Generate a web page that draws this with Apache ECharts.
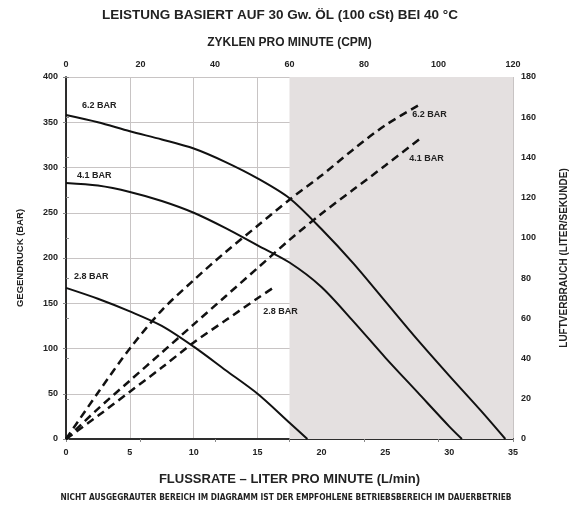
<!DOCTYPE html>
<html>
<head>
<meta charset="utf-8">
<script src="https://cdn.jsdelivr.net/npm/echarts@6.0.0/dist/echarts.min.js"></script>
<style>
  html, body { margin: 0; padding: 0; background: #fff; }
  #chart { width: 572px; height: 506px; }
</style>
</head>
<body>
<div id="chart"></div>
<script>
// Gegendruck (bar) ueber Flussrate (L/min), durchgezogene Linien
var flow62 = [0, 2.5, 5, 7.5, 10, 12.5, 15, 17.5, 20, 22.5, 25, 27.5, 30, 32.5, 34.4];
var pressure62 = [358, 350, 340, 331, 321, 306, 288, 266, 232, 194, 152, 110, 70, 31, 0];
var flow41 = [0, 2.5, 5, 7.5, 10, 12.5, 15, 17.5, 20, 22.5, 25, 27.5, 30, 31];
var pressure41 = [283, 280, 273, 263, 250, 233, 214, 195, 168, 130, 90, 52, 14, 0];
var flow28 = [0, 2.5, 5, 7.5, 10, 12.5, 15, 17.5, 18.9];
var pressure28 = [167, 155, 141, 125, 102, 76, 50, 18, 0];

// Luftverbrauch (L/s) ueber Flussrate, gestrichelte Linien
var airFlow62 = [0, 2.5, 5, 7.5, 10, 12.5, 15, 17.5, 20, 22.5, 25, 27.9];
var air62 = [0, 23, 45, 64, 79, 93, 106, 119, 131, 144, 156, 167];
var airFlow41 = [0, 2.5, 5, 7.5, 10, 12.5, 15, 17.5, 20, 22.5, 25, 27.65];
var air41 = [0, 15, 29, 43, 57, 71, 85, 99, 112, 124, 136, 149];
var airFlow28 = [0, 2.5, 5, 7.5, 10, 12.5, 15, 16.3];
var air28 = [0, 11.5, 23.5, 35.5, 48, 59, 70, 75.5];

var labels = ["6.2 BAR", "4.1 BAR", "2.8 BAR"];
var shadedFrom = 17.5; // 60 CPM, ab hier grau

var font = "Liberation Sans";
var dark = "#222";

function pairs(xs, ys) {
  return xs.map(function (x, i) { return [x, ys[i]]; });
}

// Beschriftung an einem Datenpunkt anbringen
function withLabel(data, idx, text, pos) {
  data[idx] = {
    value: data[idx],
    label: {
      show: true,
      formatter: text,
      position: pos,
      color: dark,
      fontFamily: font,
      fontWeight: "bold",
      fontSize: 9
    }
  };
  return data;
}

function solid(xs, ys, text, pos) {
  return {
    type: "line",
    xAxisIndex: 0,
    yAxisIndex: 0,
    smooth: 0.3,
    symbol: "circle",
    symbolSize: 0,
    showAllSymbol: true,
    lineStyle: { color: "#111", width: 2 },
    itemStyle: { color: "#111" },
    emphasis: { disabled: true },
    data: withLabel(pairs(xs, ys), 0, text, pos)
  };
}

function dashed(xs, ys, text, pos) {
  var d = pairs(xs, ys);
  return {
    type: "line",
    xAxisIndex: 0,
    yAxisIndex: 1,
    smooth: 0.3,
    symbol: "circle",
    symbolSize: 0,
    showAllSymbol: true,
    lineStyle: { color: "#111", width: 2.5, type: [8, 5] },
    itemStyle: { color: "#111" },
    emphasis: { disabled: true },
    data: withLabel(d, d.length - 1, text, pos)
  };
}

var tickLabel = { color: dark, fontFamily: font, fontWeight: "bold", fontSize: 9 };
var axisName = { color: dark, fontFamily: font, fontWeight: "bold" };

var series = [
  // grauer Bereich, unter den Gitterlinien
  {
    type: "line",
    xAxisIndex: 0,
    yAxisIndex: 0,
    z: -1,
    data: [],
    markArea: {
      silent: true,
      itemStyle: { color: "#e4e0e0" },
      data: [[{ xAxis: shadedFrom }, { xAxis: 35 }]]
    }
  },
  solid(flow62, pressure62, labels[0], [16, -14]),
  solid(flow41, pressure41, labels[1], [11, -12]),
  solid(flow28, pressure28, labels[2], [8, -16]),
  dashed(airFlow62, air62, labels[0], [-10, 7]),
  dashed(airFlow41, air41, labels[1], [-10, 15]),
  dashed(airFlow28, air28, labels[2], [-11, 20])
];

var option = {
  animation: false,
  backgroundColor: "#fff",
  title: [
    {
      text: "LEISTUNG BASIERT AUF 30 Gw. ÖL (100 cSt) BEI 40 °C",
      left: 97,
      top: 3,
      textStyle: { color: dark, fontFamily: font, fontWeight: "bold", fontSize: 13.5 }
    },
    {
      text: "NICHT AUSGEGRAUTER BEREICH IM DIAGRAMM IST DER EMPFOHLENE BETRIEBSBEREICH IM DAUERBETRIEB",
      left: "center",
      top: 489,
      textStyle: { color: dark, fontFamily: "'DejaVu Sans Condensed', 'Liberation Sans', sans-serif", fontWeight: "bold", fontSize: 8.3 }
    }
  ],
  grid: { left: 66, right: 59, top: 77, bottom: 67, containLabel: false, outerBoundsMode: "none" },
  xAxis: [
    {
      type: "value",
      position: "bottom",
      min: 0,
      max: 35,
      interval: 5,
      name: "FLUSSRATE – LITER PRO MINUTE (L/min)",
      nameLocation: "middle",
      nameGap: 34,
      nameTextStyle: Object.assign({}, axisName, { fontSize: 13 }),
      axisLine: { lineStyle: { color: "#555", width: 2 } },
      axisTick: { show: false },
      axisLabel: Object.assign({ margin: 9 }, tickLabel),
      splitLine: { lineStyle: { color: "#c8c4c4", width: 1 } }
    },
    {
      type: "value",
      position: "top",
      min: 0,
      max: 120,
      interval: 20,
      name: "ZYKLEN PRO MINUTE (CPM)",
      nameLocation: "middle",
      nameGap: 28,
      nameTextStyle: Object.assign({}, axisName, { fontSize: 12 }),
      axisLine: { lineStyle: { color: dark, width: 1.5 } },
      axisTick: { inside: true, length: 3, lineStyle: { color: "#888" } },
      axisLabel: Object.assign({ margin: 8 }, tickLabel),
      splitLine: { show: false }
    }
  ],
  yAxis: [
    {
      type: "value",
      position: "left",
      min: 0,
      max: 400,
      interval: 50,
      name: "GEGENDRUCK (BAR)",
      nameLocation: "middle",
      nameGap: 41,
      nameTextStyle: Object.assign({}, axisName, { fontSize: 9.5 }),
      axisLine: { show: true, lineStyle: { color: dark, width: 1.5 } },
      axisTick: { show: true, length: 3, lineStyle: { color: "#888" } },
      axisLabel: Object.assign({ margin: 8 }, tickLabel),
      splitLine: { lineStyle: { color: "#c8c4c4", width: 1 } }
    },
    {
      type: "value",
      position: "right",
      min: 0,
      max: 180,
      interval: 20,
      name: "LUFTVERBRAUCH (LITER/SEKUNDE)",
      nameLocation: "middle",
      nameRotate: 90,
      nameGap: 46,
      nameTextStyle: Object.assign({}, axisName, { fontSize: 10 }),
      axisLine: { show: true, lineStyle: { color: dark, width: 1.5 } },
      axisTick: { show: true, length: 3, lineStyle: { color: "#888" } },
      axisLabel: Object.assign({ margin: 8 }, tickLabel),
      splitLine: { show: false }
    }
  ],
  series: series
};

var chart = echarts.init(document.getElementById("chart"));
chart.setOption(option);
</script>
</body>
</html>
